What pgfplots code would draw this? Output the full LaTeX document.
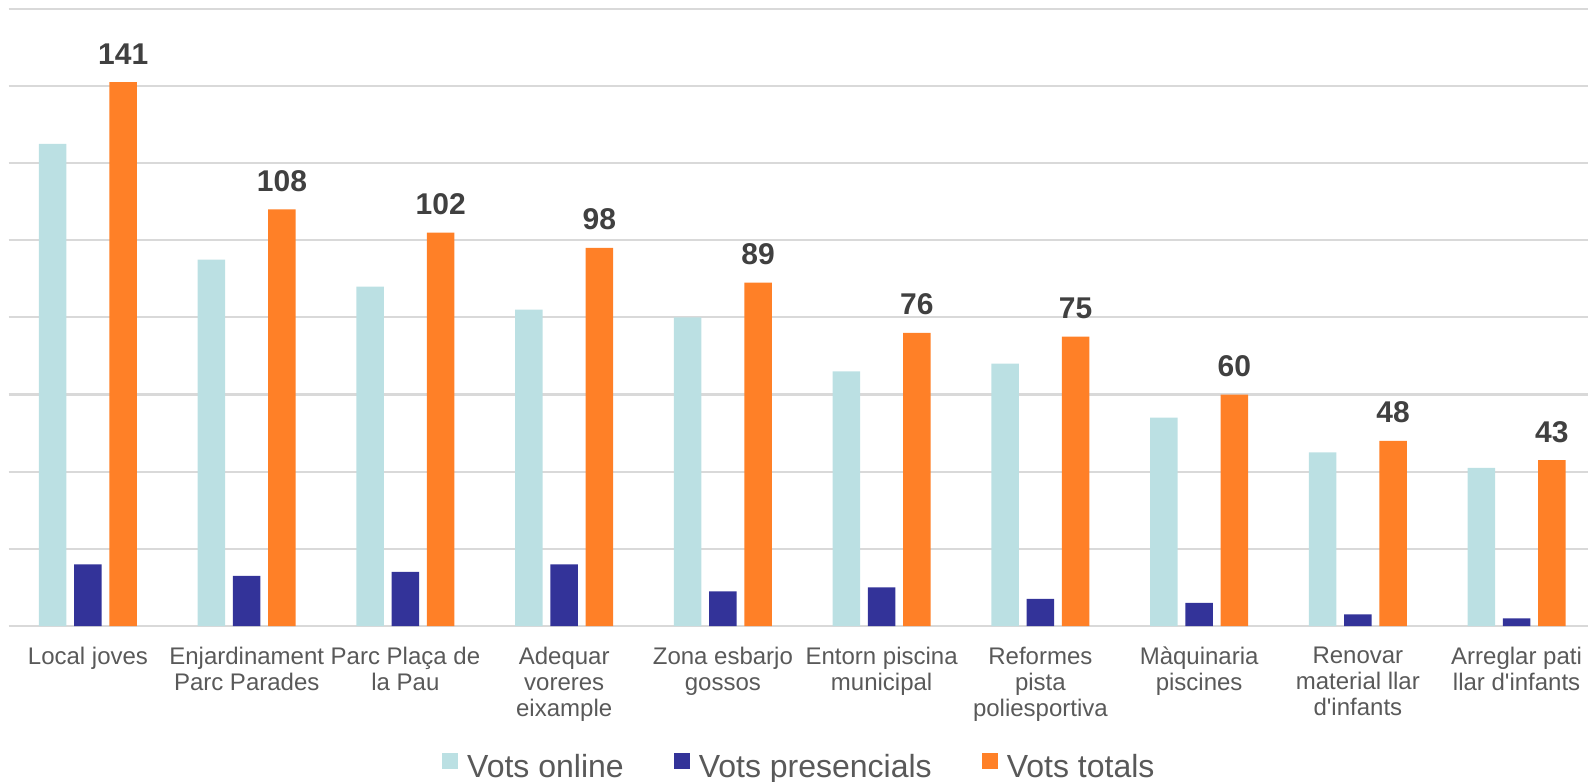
\documentclass[border=0pt]{standalone}
\usepackage{fontspec}
\setmainfont{Liberation Sans}
\usepackage{pgfplots}
\pgfplotsset{compat=1.18}
\definecolor{online}{HTML}{BBE0E3}
\definecolor{pres}{HTML}{333399}
\definecolor{total}{HTML}{FF8027}
\definecolor{gridc}{HTML}{D9D9D9}
\definecolor{tickc}{HTML}{595959}
\definecolor{labc}{HTML}{404040}
\begin{document}
\begin{tikzpicture}
\useasboundingbox (0,0) rectangle (794pt,390.5pt);
\begin{axis}[
  at={(4.3pt,77.5pt)}, anchor=south west,
  scale only axis, width=789.7pt, height=308.6pt,
  ybar, bar width=0.173,
  xmin=-0.5, xmax=9.45, ymin=0, ymax=160,
  ytick={0,20,...,160}, yticklabels={},
  ymajorgrids, grid style={gridc, line width=1.1pt},
  axis line style={draw=none},
  major tick length=0pt,
  xtick={0,...,9},
  xticklabels={{Local joves},{Enjardinament\\Parc Parades},{Parc Pla\c{c}a de\\la Pau},{Adequar\\voreres\\eixample},{Zona esbarjo\\gossos},{Entorn piscina\\municipal},{Reformes\\pista\\poliesportiva},{M\`aquinaria\\piscines},{Renovar\\material llar\\d\textquotesingle infants},{Arreglar pati\\llar d\textquotesingle infants}},
  xticklabel style={font=\fontsize{12}{13}\selectfont, text=tickc, align=center, anchor=north, inner sep=0pt, yshift=-10.4pt},
  /pgf/number format/assume math mode=true,
  every node near coord/.append style={font=\fontsize{15}{18}\selectfont\bfseries, text=labc, anchor=base, yshift=9pt, inner sep=0pt},
  legend columns=3,
  legend style={at={(0.5,0)}, anchor=north, yshift=-63.5pt, draw=none, inner sep=0pt,
    font=\fontsize{16}{19}\selectfont, text=tickc,
    nodes={inner sep=0pt},
    /tikz/every odd column/.append style={column sep=4.5pt},
    /tikz/every even column/.append style={column sep=25pt}},
  legend image code/.code={\path[#1,draw=none] (0pt,-1pt) rectangle (8pt,7pt);},
]
\addplot[fill=online, draw=none, bar shift=-0.222] coordinates {(0,125) (1,95) (2,88) (3,82) (4,80) (5,66) (6,68) (7,54) (8,45) (9,41)};
\addplot[fill=pres, draw=none, bar shift=0] coordinates {(0,16) (1,13) (2,14) (3,16) (4,9) (5,10) (6,7) (7,6) (8,3) (9,2)};
\addplot[fill=total, draw=none, bar shift=0.222, nodes near coords] coordinates {(0,141) (1,108) (2,102) (3,98) (4,89) (5,76) (6,75) (7,60) (8,48) (9,43)};
\legend{Vots online, Vots presencials, Vots totals}
\end{axis}
\end{tikzpicture}
\end{document}
